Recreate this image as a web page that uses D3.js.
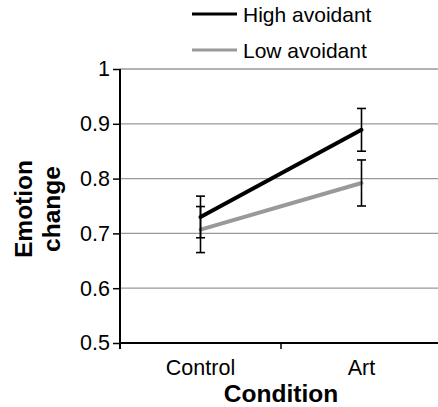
<!DOCTYPE html>
<html>
  <head>
    <script src="https://cdn.jsdelivr.net/npm/d3@7/dist/d3.min.js"></script>
    <style>
      body { margin: 0; background: #fff; }
      text { font-family: "Liberation Sans", Arial, sans-serif; }
    </style>
  </head>
  <body>
    <svg width="438" height="407"></svg>
    <script>
      const conditions = ["Control", "Art"];
      const highValues = [0.730, 0.889];
      const highErrors = [0.038, 0.039];
      const lowValues = [0.707, 0.792];
      const lowErrors = [0.042, 0.042];
      const yTicks = [0.5, 0.6, 0.7, 0.8, 0.9, 1];

      const series = [
        { name: "High avoidant", values: highValues, errors: highErrors, color: "#000" },
        { name: "Low avoidant", values: lowValues, errors: lowErrors, color: "#999" }
      ];

      const svg = d3.select("svg");
      const plotLeft = 120, plotRight = 442, plotTop = 69, plotBottom = 343;

      const x = d3.scaleBand().domain(conditions).range([plotLeft, plotRight]);
      const y = d3.scaleLinear().domain([0.5, 1]).range([plotBottom, plotTop]);
      const cx = c => x(c) + x.bandwidth() / 2;

      // gridlines
      svg.selectAll(".grid")
        .data(yTicks.filter(d => d > 0.5))
        .enter().append("line")
          .attr("x1", plotLeft).attr("x2", 438)
          .attr("y1", d => y(d)).attr("y2", d => y(d))
          .attr("stroke", "#999").attr("stroke-width", 1.3);

      // y axis
      const yAxis = svg.append("g")
        .attr("transform", `translate(${plotLeft},0)`)
        .call(d3.axisLeft(y).tickValues(yTicks).tickFormat(d => d === 1 ? "1" : d3.format(".1f")(d)).tickSize(7).tickPadding(3));
      yAxis.select(".domain").remove();
      yAxis.selectAll("line").attr("stroke", "#000").attr("stroke-width", 1.5);
      yAxis.selectAll("text").attr("font-size", 21.5).attr("fill", "#000");
      svg.append("line").attr("x1", plotLeft).attr("x2", plotLeft).attr("y1", plotTop).attr("y2", plotBottom + 6)
        .attr("stroke", "#000").attr("stroke-width", 2);

      // x axis
      svg.append("line").attr("x1", plotLeft).attr("x2", 438).attr("y1", plotBottom).attr("y2", plotBottom)
        .attr("stroke", "#000").attr("stroke-width", 2);
      svg.append("line").attr("x1", x("Art")).attr("x2", x("Art")).attr("y1", plotBottom).attr("y2", plotBottom + 6)
        .attr("stroke", "#000").attr("stroke-width", 1.5);
      svg.selectAll(".xlab")
        .data(conditions)
        .enter().append("text")
          .attr("x", cx).attr("y", 375)
          .attr("text-anchor", "middle").attr("font-size", 21.5)
          .text(d => d);

      // lines
      const line = d3.line().x((d, i) => cx(conditions[i])).y(d => y(d));
      series.forEach(s => {
        svg.append("path")
          .attr("d", line(s.values))
          .attr("fill", "none").attr("stroke", s.color).attr("stroke-width", 4)
          .attr("stroke-linecap", "round");
      });

      // error bars
      series.forEach(s => {
        s.values.forEach((v, i) => {
          const px = cx(conditions[i]);
          const g = svg.append("g").attr("stroke", "#000").attr("stroke-width", 1.6);
          g.append("line").attr("x1", px).attr("x2", px).attr("y1", y(v + s.errors[i])).attr("y2", y(v - s.errors[i]));
          [v + s.errors[i], v - s.errors[i]].forEach(e => {
            g.append("line").attr("x1", px - 4.5).attr("x2", px + 4.5).attr("y1", y(e)).attr("y2", y(e));
          });
        });
      });

      // legend
      series.forEach((s, i) => {
        const ly = 14 + i * 36;
        svg.append("line").attr("x1", 192).attr("x2", 237).attr("y1", ly).attr("y2", ly)
          .attr("stroke", s.color).attr("stroke-width", 3);
        svg.append("text").attr("x", 243).attr("y", ly + 7.5).attr("font-size", 21).text(s.name);
      });

      // axis titles
      svg.append("text").attr("x", 281).attr("y", 402).attr("text-anchor", "middle")
        .attr("font-size", 24.5).attr("font-weight", "bold").text("Condition");
      const yt = svg.append("text").attr("transform", "translate(0,209) rotate(-90)")
        .attr("text-anchor", "middle").attr("font-size", 24.5).attr("font-weight", "bold");
      yt.append("tspan").attr("x", 0).attr("y", 32).text("Emotion");
      yt.append("tspan").attr("x", 0).attr("y", 60).text("change");
    </script>
  </body>
</html>
